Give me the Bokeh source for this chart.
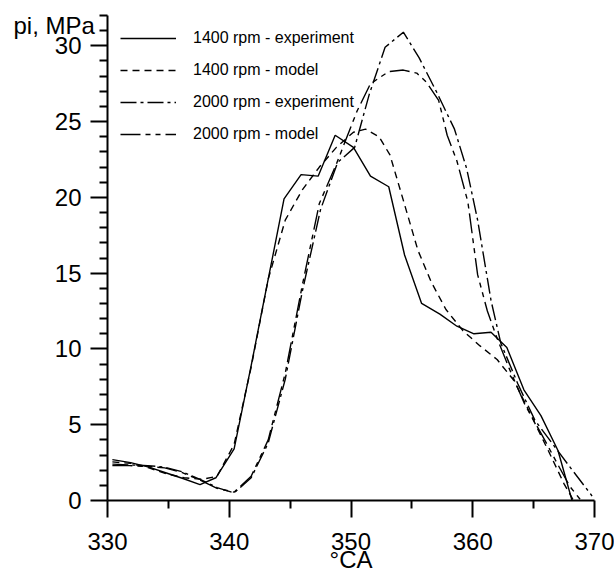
from bokeh.plotting import figure
from bokeh.models import Range1d, FixedTicker, Legend, LegendItem, Title
from bokeh.embed import file_html
from bokeh.resources import INLINE

# 1400 rpm - experiment
x_1400_exp = [330.4, 331.9, 333.4, 334.9, 336.2, 337.6, 338.9, 340.4, 341.8, 343.2, 344.5, 345.9,
              347.3, 348.7, 350.2, 351.6, 353.1, 354.4, 355.8, 357.3, 358.7, 360.1, 361.5, 362.8,
              364.2, 365.6, 367.0, 368.4, 369.9]
p_1400_exp = [2.7, 2.5, 2.2, 1.8, 1.45, 1.05, 1.5, 3.4, 8.9, 14.6, 19.9, 21.5,
              21.4, 24.1, 23.3, 21.4, 20.7, 16.2, 13.0, 12.3, 11.5, 11.0, 11.1, 10.1,
              7.3, 5.6, 3.3, -0.7, -1.3]

# 1400 rpm - model
x_1400_mod = [330.4, 331.9, 333.4, 334.9, 336.3, 337.8, 339.0, 340.4, 341.8, 343.2, 344.6, 346.0,
              347.4, 348.8, 350.2, 351.2, 352.3, 353.2, 354.3, 355.5, 356.6, 357.8, 359.2, 360.6,
              362.0, 363.4, 364.8, 366.2, 367.5, 368.7, 369.6]
p_1400_mod = [2.55, 2.45, 2.15, 1.75, 1.5, 1.4, 1.6, 3.7, 8.8, 14.6, 18.5, 20.5,
              22.0, 23.3, 24.3, 24.5, 24.0, 22.8, 19.8, 16.5, 14.4, 12.6, 11.2, 10.2,
              9.3, 7.9, 5.6, 3.3, 1.1, -0.6, -0.5]

# 2000 rpm - experiment
x_2000_exp = [330.4, 331.8, 333.3, 334.7, 336.1, 337.6, 339.0, 340.4, 341.8, 343.2, 344.6, 346.0,
              347.5, 348.9, 350.3, 351.5, 352.8, 354.3, 355.6, 357.0, 358.5, 359.5, 360.4, 361.5,
              362.3, 363.7, 365.1, 366.5, 367.8, 369.8]
p_2000_exp = [2.4, 2.35, 2.3, 2.2, 1.9, 1.4, 0.85, 0.5, 1.5, 3.8, 8.0, 13.8,
              19.2, 22.3, 23.3, 26.8, 29.9, 30.9, 29.2, 27.0, 24.5, 21.9, 18.5, 13.2,
              10.4, 7.7, 5.3, 3.8, 2.4, 0.3]

# 2000 rpm - model
x_2000_mod = [330.4, 331.8, 333.3, 334.7, 336.1, 337.6, 339.0, 340.4, 341.8, 343.2, 344.6, 346.0,
              347.4, 348.8, 350.5, 351.6, 353.1, 354.3, 355.4, 356.2, 357.2, 357.9, 358.7, 359.6,
              360.4, 361.2, 362.0, 363.0, 364.3, 365.7, 366.9, 368.0, 369.3]
p_2000_mod = [2.3, 2.3, 2.25, 2.15, 1.85, 1.35, 0.8, 0.55, 1.6, 4.0, 8.4, 14.2,
              19.6, 22.2, 25.7, 27.5, 28.3, 28.4, 28.2, 27.6, 26.4, 24.1, 22.4, 19.7,
              14.9, 12.5, 10.7, 8.7, 6.3, 4.3, 2.5, 0.9, -0.4]

x_major = [330, 340, 350, 360, 370]
x_minor = [335, 345, 355, 365]
y_major = [0, 5, 10, 15, 20, 25, 30]
y_minor = [v for v in range(1, 33) if v % 5 != 0]

series_labels = ["1400 rpm - experiment", "1400 rpm - model",
                 "2000 rpm - experiment", "2000 rpm - model"]
x_title = "°CA"
y_title = "pi, MPa"

FONT = "Liberation Sans"

p = figure(width=614, height=575, output_backend="svg", toolbar_location=None,
           x_range=Range1d(330, 370), y_range=Range1d(0, 32),
           min_border_left=107, min_border_right=20, min_border_top=15, min_border_bottom=75)
p.outline_line_color = None
p.grid.visible = False
p.background_fill_color = "white"
p.border_fill_color = "white"

for ax in (p.xaxis[0], p.yaxis[0]):
    ax.axis_line_width = 2
    ax.axis_line_color = "black"
    ax.major_tick_line_width = 2
    ax.minor_tick_line_width = 2
    ax.major_tick_line_color = "black"
    ax.minor_tick_line_color = "black"
    ax.major_tick_in = 0
    ax.major_tick_out = 17
    ax.minor_tick_in = 0
    ax.minor_tick_out = 8
    ax.major_label_text_font = FONT
    ax.major_label_text_font_size = "24px"
    ax.major_label_text_color = "black"

p.xaxis[0].ticker = FixedTicker(ticks=x_major, minor_ticks=x_minor)
p.yaxis[0].ticker = FixedTicker(ticks=y_major, minor_ticks=y_minor)
p.xaxis[0].major_label_standoff = 15
p.yaxis[0].major_label_standoff = 9
p.xaxis[0].axis_label = x_title
p.xaxis[0].axis_label_text_font = FONT
p.xaxis[0].axis_label_text_font_size = "24px"
p.xaxis[0].axis_label_text_font_style = "normal"
p.xaxis[0].axis_label_text_color = "black"
p.xaxis[0].axis_label_standoff = -7

lw = 1.4
r1 = p.line(x_1400_exp, p_1400_exp, line_color="black", line_width=lw)
r2 = p.line(x_1400_mod, p_1400_mod, line_color="black", line_width=lw, line_dash="7 5")
r3 = p.line(x_2000_exp, p_2000_exp, line_color="black", line_width=lw, line_dash="16 4 3 4")
r4 = p.line(x_2000_mod, p_2000_mod, line_color="black", line_width=lw, line_dash="20 5 5 5 5 5")

legend = Legend(items=[LegendItem(label=series_labels[i], renderers=[r])
                       for i, r in enumerate([r1, r2, r3, r4])],
                location="top_left", margin=13, padding=0,
                glyph_width=56, glyph_height=20, label_height=20, label_standoff=17,
                spacing=12, border_line_color=None, background_fill_alpha=0,
                label_text_font=FONT, label_text_font_size="16px", label_text_color="black")
p.add_layout(legend)

ytitle = Title(text=y_title, align="left", vertical_align="bottom", offset=-94, standoff=-46,
               text_font=FONT, text_font_size="24px", text_font_style="normal",
               text_color="black")
p.add_layout(ytitle, "above")

open("out.html", "w").write(file_html(p, INLINE))
